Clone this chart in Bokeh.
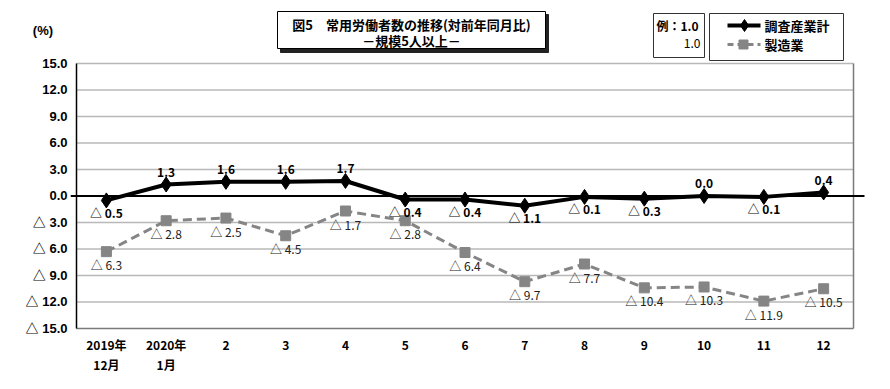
from bokeh.plotting import figure
from bokeh.models import Range1d, FixedTicker, ColumnDataSource
from bokeh.core.properties import value
from bokeh.embed import file_html
from bokeh.resources import INLINE

# ---- data ----
months = ["2019年\n12月", "2020年\n1月", "2", "3", "4", "5", "6", "7", "8", "9", "10", "11", "12"]
total = [-0.5, 1.3, 1.6, 1.6, 1.7, -0.4, -0.4, -1.1, -0.1, -0.3, 0.0, -0.1, 0.4]
manuf = [-6.3, -2.8, -2.5, -4.5, -1.7, -2.8, -6.4, -9.7, -7.7, -10.4, -10.3, -11.9, -10.5]
y_ticks = [-15, -12, -9, -6, -3, 0, 3, 6, 9, 12, 15]
unit_label = "(%)"
title_lines = ["図5　常用労働者数の推移(対前年同月比)", "－規模5人以上－"]
series_names = ["調査産業計", "製造業"]

CJK = "Noto Sans CJK JP"
SANS = "'Liberation Sans', 'Noto Sans CJK JP', sans-serif"
NARROW = "'Liberation Sans Narrow', 'Noto Sans CJK JP', sans-serif"

# pixel helpers for decorations (page px -> data)
PX_X = 59.77
PX_Y = 8.833
def sx(px):
    return (px - 76) / PX_X
def sy(py):
    return 15 + (63 - py) / PX_Y

def fmt(v):
    return ("△ %.1f" % abs(v)) if v < 0 else ("%.1f" % v)

xs = [i + 0.5 for i in range(len(months))]

p = figure(width=890, height=389, output_backend="svg", toolbar_location=None,
           x_range=Range1d(sx(70), sx(865)), y_range=Range1d(sy(330), sy(8)),
           min_border_left=70, min_border_right=25, min_border_top=8, min_border_bottom=59,
           outline_line_color=None, title=None)
p.xgrid.visible = False
p.ygrid.visible = False

# gridlines
grid_y = [t for t in y_ticks if t not in (0, -15)]
p.segment(x0=[0] * len(grid_y), x1=[13] * len(grid_y), y0=grid_y, y1=grid_y,
          line_color="#b8b8b8", line_width=1.5)
# frame lines
p.segment(x0=[0], x1=[13], y0=[-15], y1=[-15], line_color="#7a7a7a", line_width=1.5)
p.segment(x0=[13], x1=[13], y0=[-15], y1=[15], line_color="#7a7a7a", line_width=1.5)
p.segment(x0=[0], x1=[0], y0=[-15], y1=[15], line_color="black", line_width=1.5)
# zero line
p.segment(x0=[sx(70)], x1=[sx(864)], y0=[0], y1=[0], line_color="black", line_width=2)

# series
src = ColumnDataSource(dict(
    x=xs, total=total, manuf=manuf,
    tl=[fmt(v) for v in total], ml=[fmt(v) for v in manuf],
    ty=[v + 12 / PX_Y if v >= 0 else v - 12 / PX_Y for v in total],
    my=[v - 13 / PX_Y for v in manuf],
))
p.line("x", "manuf", source=src, line_color="#858585", line_width=3, line_dash="9 5")
p.scatter("x", "manuf", source=src, marker="square", size=10, fill_color="#858585", line_color="#858585")
p.line("x", "total", source=src, line_color="black", line_width=4)
p.scatter("x", "total", source=src, marker="diamond", size=15, fill_color="black", line_color="black")

p.text("x", "ty", text="tl", source=src, text_font=value(NARROW), text_font_size="12px",
       text_font_style="bold", text_align="center", text_baseline="middle", text_color="black")
p.text("x", "my", text="ml", source=src, text_font=value(NARROW), text_font_size="12px",
       text_align="center", text_baseline="middle", text_color="#222222")

# axes
unit_pos = sy(30)
p.yaxis.ticker = FixedTicker(ticks=y_ticks + [unit_pos])
overrides = {t: fmt(float(t)) for t in y_ticks}
overrides[unit_pos] = unit_label + "\u00a0" * 4
p.yaxis.major_label_overrides = overrides
p.yaxis.axis_line_color = None
p.yaxis.major_tick_line_color = None
p.yaxis.minor_tick_line_color = None
p.yaxis.major_tick_out = 0
p.yaxis.major_tick_in = 0
p.yaxis.major_label_standoff = 3
p.yaxis.major_label_text_font = SANS
p.yaxis.major_label_text_font_size = "13px"
p.yaxis.major_label_text_font_style = "bold"
p.yaxis.major_label_text_color = "black"

p.xaxis.ticker = FixedTicker(ticks=xs)
p.xaxis.major_label_overrides = {x: m for x, m in zip(xs, months)}
p.xaxis.axis_line_color = None
p.xaxis.major_tick_line_color = None
p.xaxis.minor_tick_line_color = None
p.xaxis.major_tick_out = 0
p.xaxis.major_tick_in = 0
p.xaxis.major_label_standoff = 5
p.xaxis.major_label_text_font = CJK
p.xaxis.major_label_text_font_size = "12px"
p.xaxis.major_label_text_font_style = "bold"
p.xaxis.major_label_text_color = "black"

# title box with shadow
p.quad(left=[sx(280)], right=[sx(548)], top=[sy(14)], bottom=[sy(52)],
       fill_color="#222222", line_color="#222222")
p.quad(left=[sx(277)], right=[sx(545)], top=[sy(11)], bottom=[sy(48)],
       fill_color="white", line_color="black", line_width=1)
p.text(x=[sx(411)] * 2, y=[sy(24), sy(40)], text=title_lines, text_font=value(CJK),
       text_font_size="13px", text_font_style="bold", text_align="center",
       text_baseline="middle", text_color="black")

# example box
p.quad(left=[sx(653)], right=[sx(704)], top=[sy(13)], bottom=[sy(57)],
       fill_color="white", line_color="#333333", line_width=1)
p.text(x=[sx(656)], y=[sy(25)], text=["例：1.0"], text_font=value(CJK), text_font_size="12px",
       text_font_style="bold", text_align="left", text_baseline="middle")
p.text(x=[sx(700)], y=[sy(43)], text=["1.0"], text_font=value(NARROW), text_font_size="12px",
       text_align="right", text_baseline="middle")

# legend box
p.quad(left=[sx(709)], right=[sx(843)], top=[sy(13)], bottom=[sy(60)],
       fill_color="white", line_color="#333333", line_width=1)
p.segment(x0=[sx(727)], x1=[sx(760)], y0=[sy(25)], y1=[sy(25)], line_color="black", line_width=4)
p.scatter(x=[sx(744)], y=[sy(25)], marker="diamond", size=12, fill_color="black", line_color="black")
p.segment(x0=[sx(727)], x1=[sx(760)], y0=[sy(44)], y1=[sy(44)], line_color="#858585",
          line_width=3, line_dash="6 4")
p.scatter(x=[sx(743)], y=[sy(44)], marker="square", size=9, fill_color="#858585", line_color="#858585")
p.text(x=[sx(764)] * 2, y=[sy(25), sy(44)], text=series_names, text_font=value(CJK),
       text_font_size="13px", text_font_style="bold", text_align="left", text_baseline="middle")

open("out.html", "w").write(file_html(p, INLINE))
